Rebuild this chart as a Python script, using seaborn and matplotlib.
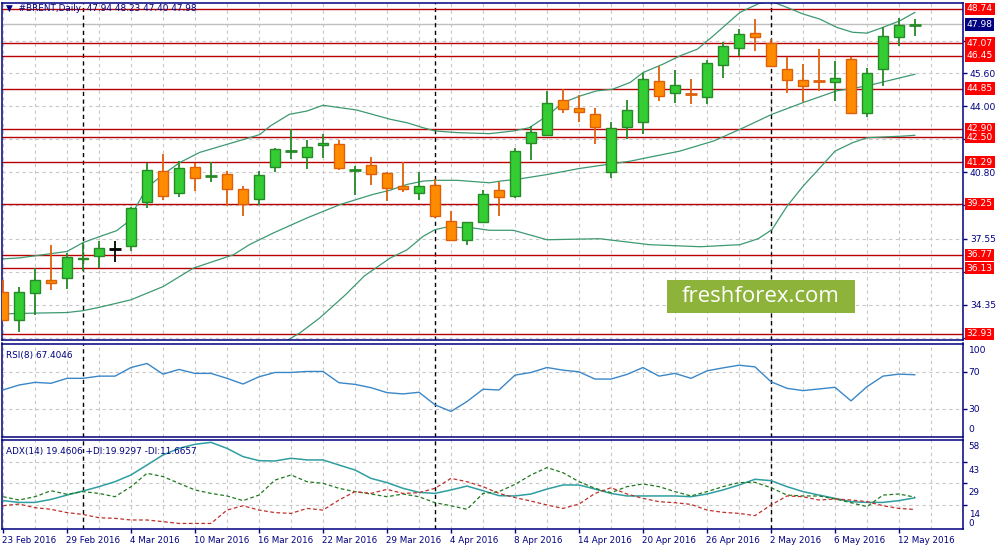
import numpy as np
import pandas as pd
import seaborn as sns
import matplotlib
matplotlib.use("Agg")
import matplotlib.pyplot as plt
from matplotlib.patches import Rectangle
import matplotlib.transforms as mtransforms

# trading days (Good Friday closed)
dates = pd.bdate_range("2016-02-23", "2016-05-13")
dates = dates[dates != pd.Timestamp("2016-03-25")]

opens = [34.99, 33.61, 34.91, 35.56, 35.64, 36.55, 36.70, 37.07, 37.19, 39.35,
         40.84, 39.79, 41.06, 40.58, 40.72, 39.99, 39.50, 41.06, 41.80, 41.53,
         42.10, 42.15, 40.87, 41.16, 40.77, 40.13, 39.79, 40.18, 38.42, 37.50,
         38.36, 39.95, 39.62, 42.23, 42.60, 44.29, 43.94, 43.64, 40.81, 43.01,
         43.25, 45.23, 44.63, 44.61, 44.47, 46.03, 46.82, 47.56, 47.06, 45.79,
         45.27, 45.27, 45.20, 46.29, 43.69, 45.79, 47.35, 47.94]
highs = [35.56, 35.21, 36.13, 37.27, 36.86, 37.35, 37.43, 37.46, 39.08, 41.22,
         41.66, 41.33, 41.22, 41.30, 40.84, 40.11, 40.84, 41.99, 42.88, 42.36,
         42.63, 42.36, 41.12, 41.55, 40.80, 41.30, 40.81, 40.44, 38.89, 38.38,
         39.95, 40.31, 41.95, 43.04, 44.75, 44.83, 44.54, 43.94, 43.25, 44.29,
         45.64, 45.94, 45.77, 45.35, 46.24, 47.14, 47.76, 48.24, 47.27, 46.40,
         46.05, 46.81, 46.21, 46.38, 45.85, 47.87, 48.29, 48.23]
lows = [33.55, 33.04, 33.85, 35.07, 35.11, 35.97, 36.16, 36.45, 36.94, 39.06,
        39.46, 39.58, 39.87, 40.33, 39.14, 38.65, 39.19, 40.80, 41.46, 40.96,
        41.50, 40.88, 39.71, 40.15, 39.38, 39.82, 39.46, 38.57, 37.48, 37.25,
        38.30, 38.65, 39.54, 41.38, 42.55, 43.69, 43.23, 42.18, 40.52, 42.42,
        42.63, 44.26, 44.18, 44.10, 44.10, 45.40, 46.45, 46.70, 45.89, 44.67,
        44.23, 44.75, 44.26, 43.62, 43.48, 44.99, 46.91, 47.40]
closes = [33.61, 34.99, 35.53, 35.43, 36.67, 36.62, 37.11, 37.07, 39.06, 40.89,
          39.62, 41.01, 40.52, 40.62, 39.99, 39.27, 40.67, 41.90, 41.84, 42.03,
          42.20, 40.98, 40.91, 40.72, 40.01, 39.99, 40.13, 38.65, 37.50, 38.36,
          39.74, 39.60, 41.85, 42.77, 44.18, 43.85, 43.74, 43.01, 42.96, 43.80,
          45.35, 44.50, 45.06, 44.57, 46.13, 46.91, 47.50, 47.35, 45.94, 45.27,
          45.01, 45.23, 45.38, 43.67, 45.64, 47.40, 47.93, 47.98]

# bollinger bands (bar position, price)
upper_x = [-0.2, 1.06, 4.0, 5.0, 6.06, 7.1, 7.75, 9.0, 10.0, 11.06, 12.3, 14.0, 15.4,
           16.06, 16.7, 17.9, 19.0, 20.0, 22.1, 24.2, 25.25, 26.25, 27.0, 28.4, 30.4,
           31.9, 32.9, 34.0, 35.0, 36.06, 37.1, 38.1, 39.2, 40.0, 41.25, 42.3, 43.4,
           44.4, 46.06, 47.3, 48.06, 49.0, 50.0, 51.06, 52.1, 53.1, 54.0, 55.0, 56.06, 57.0]
upper_y = [36.57, 36.63, 36.94, 37.37, 37.67, 37.95, 38.34, 40.05, 40.68, 41.27, 41.76,
           42.15, 42.47, 42.63, 43.04, 43.61, 43.77, 44.05, 43.82, 43.37, 43.20, 42.96,
           42.80, 42.72, 42.67, 42.80, 42.96, 43.53, 44.18, 44.50, 44.75, 44.83, 45.16,
           45.64, 46.05, 46.45, 46.78, 47.43, 48.57, 49.02, 49.09, 48.81, 48.49, 48.24,
           47.84, 47.60, 47.56, 47.84, 48.16, 48.57]
mid_x = [-0.2, 1.9, 4.0, 5.0, 6.06, 8.0, 10.0, 11.9, 14.4, 15.4, 16.9, 19.0, 21.06,
         23.1, 24.2, 25.25, 26.25, 27.0, 28.4, 30.4, 31.06, 32.3, 34.0, 36.06, 37.75,
         39.2, 40.25, 42.3, 44.4, 46.06, 48.06, 50.0, 52.1, 54.0, 55.25, 57.0]
mid_y = [33.90, 33.94, 33.97, 34.06, 34.23, 34.59, 35.23, 36.13, 36.78, 37.27, 37.84,
         38.57, 39.22, 39.71, 39.92, 40.20, 40.36, 40.40, 40.40, 40.28, 40.36, 40.47,
         40.68, 40.98, 41.17, 41.33, 41.50, 41.82, 42.31, 42.88, 43.61, 44.18, 44.75,
         44.99, 45.23, 45.56]
lower_x = [17.5, 18.56, 19.8, 21.4, 22.6, 24.2, 25.25, 26.25, 27.0, 27.75, 29.4, 30.4,
           31.9, 34.0, 37.3, 40.4, 43.6, 46.06, 47.2, 48.06, 49.0, 50.0, 51.06, 52.0,
           53.1, 54.0, 56.25, 57.0]
lower_y = [32.50, 32.98, 33.71, 34.83, 35.76, 36.62, 37.02, 37.67, 38.00, 38.13, 38.08,
           37.97, 37.97, 37.51, 37.56, 37.27, 37.17, 37.27, 37.56, 38.00, 39.14, 40.11,
           41.01, 41.82, 42.23, 42.47, 42.55, 42.59]

levels = [48.74, 47.07, 46.45, 44.85, 42.90, 42.50, 41.29, 39.25, 36.77, 36.13, 32.93]
last_price = 47.98

rsi = [50.8, 56.2, 59.1, 58.1, 63.5, 63.5, 65.9, 65.9, 75.3, 79.7, 68.1, 73.2, 68.9,
       68.9, 63.5, 57.3, 65.2, 69.9, 69.9, 71.0, 71.0, 58.7, 56.9, 53.3, 47.9, 46.5,
       48.3, 34.6, 27.4, 38.2, 51.6, 50.8, 67.0, 69.9, 75.3, 72.4, 70.6, 62.7, 62.7,
       67.8, 75.3, 65.9, 68.9, 63.5, 71.7, 74.9, 77.8, 76.0, 59.8, 52.6, 50.1, 51.9,
       53.7, 38.9, 54.4, 65.9, 68.1, 67.4]
adx = [17.6, 16.4, 16.4, 18.4, 21.3, 24.0, 26.9, 30.2, 34.7, 41.3, 48.0, 52.4, 55.1,
       56.4, 52.4, 46.9, 44.2, 44.0, 45.8, 44.7, 44.7, 41.3, 38.0, 32.4, 29.6, 25.8,
       23.1, 22.4, 24.7, 27.3, 24.2, 20.9, 20.7, 22.0, 25.3, 28.0, 28.0, 25.3, 22.4,
       20.7, 20.7, 20.7, 20.7, 20.2, 22.0, 24.7, 28.0, 31.8, 30.9, 26.9, 23.6, 21.3,
       19.1, 16.9, 16.4, 16.4, 17.6, 19.5]
plus_di = [20.2, 18.0, 20.2, 24.2, 21.8, 23.6, 22.4, 20.2, 26.9, 35.8, 33.6, 29.1, 24.7,
           22.4, 20.7, 17.6, 21.3, 31.3, 34.7, 30.2, 29.1, 25.8, 23.6, 22.0, 20.2, 22.0,
           20.2, 16.2, 14.2, 11.8, 22.4, 23.6, 28.4, 34.7, 39.6, 36.2, 30.2, 25.8, 22.9,
           26.9, 28.7, 26.9, 23.6, 20.7, 23.6, 26.9, 29.6, 29.8, 26.2, 21.3, 20.7, 20.7,
           18.7, 16.2, 13.6, 21.3, 22.0, 19.9]
minus_di = [14.2, 15.3, 12.9, 11.8, 9.6, 8.4, 6.2, 5.8, 4.7, 4.7, 3.6, 2.4, 2.4, 2.4,
            11.3, 14.2, 11.3, 9.6, 9.1, 12.4, 11.3, 18.0, 23.6, 22.4, 25.1, 22.4, 22.9,
            25.8, 32.4, 30.2, 26.9, 22.4, 19.6, 17.3, 14.7, 12.4, 15.3, 22.4, 26.2, 22.0,
            19.1, 16.9, 16.2, 15.1, 11.3, 9.8, 9.1, 7.6, 14.7, 20.7, 20.2, 18.0, 18.7,
            18.0, 16.9, 14.2, 12.4, 11.7]

# price grid levels; only the ones not covered by the level boxes get a label
price_ticks = [32.75, 34.35, 35.95, 37.55, 39.20, 40.80, 42.40, 44.00, 45.60, 47.20]
price_tick_labels = ["", "34.35", "", "37.55", "", "40.80", "", "44.00", "45.60", ""]

NAVY = "#000080"
GRID = "#c8c8c8"
UP_FACE, UP_EDGE = "#33cc33", "#268a26"
DN_FACE, DN_EDGE = "#ff8c00", "#e0600a"

sns.set_theme(style="white")
plt.rcParams["font.family"] = ["DejaVu Sans"]

W, H = 1005, 549
fig = plt.figure(figsize=(W / 100, H / 100), dpi=100)
fig.patch.set_facecolor("white")


def px_axes(top, bottom, left=2, right=963):
    return fig.add_axes([left / W, 1 - bottom / H, (right - left) / W, (bottom - top) / H])


ax = px_axes(3, 340)
ax_rsi = px_axes(343.5, 437)
ax_adx = px_axes(439.5, 529)

n = len(closes)
idx = np.arange(n)
xlim = (-0.0625, 60)

for a in (ax, ax_rsi, ax_adx):
    a.set_xlim(*xlim)
    a.set_facecolor("white")
    for s in a.spines.values():
        s.set_color(NAVY)
        s.set_linewidth(1.1)
    for k in range(0, 60, 2):
        a.axvline(k, color=GRID, lw=0.8, ls=(0, (3, 3)), zorder=0)

# month separators
month_starts = [i for i in range(1, n) if dates[i].month != dates[i - 1].month]
for a in (ax, ax_rsi, ax_adx):
    for m in month_starts:
        a.axvline(m, color="black", lw=1.0, ls=(0, (3, 2.5)), zorder=1)

# ---------------- main price panel ----------------
ax.set_ylim(32.634, 49.024)
for t in price_ticks:
    ax.axhline(t, color=GRID, lw=0.8, ls=(0, (3, 3)), zorder=0)
ax.axhline(last_price, color="#c0c0c0", lw=1.0, zorder=0.5)

for lv in levels:
    ax.axhline(lv, color="#b80000", lw=1.0, zorder=1.5)

sns.lineplot(x=upper_x, y=upper_y, ax=ax, color="#3d9970", lw=0.9, zorder=2)
sns.lineplot(x=mid_x, y=mid_y, ax=ax, color="#3d9970", lw=0.9, zorder=2)
sns.lineplot(x=lower_x, y=lower_y, ax=ax, color="#3d9970", lw=0.9, zorder=2)

bw = 0.62
for i in range(n):
    o, h, l, c = opens[i], highs[i], lows[i], closes[i]
    up = c >= o
    edge = UP_EDGE if up else DN_EDGE
    face = UP_FACE if up else DN_FACE
    if abs(c - o) < 0.05:
        col = "black" if c == o else edge
        ax.vlines(i, l, h, color=col, lw=1.3, zorder=3)
        ax.hlines((o + c) / 2, i - bw / 2 - 0.05, i + bw / 2 + 0.05, color=col, lw=2.0, zorder=3)
        continue
    ax.vlines(i, l, h, color=edge, lw=1.3, zorder=3)
    ax.bar(i, abs(c - o), bottom=min(o, c), width=bw, color=face, edgecolor=edge,
           linewidth=1.0, zorder=4)

ax.yaxis.tick_right()
ax.set_yticks(price_ticks)
ax.set_yticklabels(price_tick_labels)
ax.tick_params(axis="y", colors=NAVY, labelsize=6.6, length=3, width=1, pad=2,
               labelcolor=NAVY)
ax.set_xticks([])
ax.set_ylabel("")

for lv in levels:
    ax.annotate(f"{lv:.2f}", xy=(1, lv), xycoords=("axes fraction", "data"),
                xytext=(2.6, 0), textcoords="offset points", ha="left", va="center",
                fontsize=6.6, color="white", zorder=10, annotation_clip=False,
                bbox=dict(boxstyle="square,pad=0.2", fc="#ff0000", ec="none"))
ax.annotate(f"{last_price:.2f}", xy=(1, last_price), xycoords=("axes fraction", "data"),
            xytext=(2.6, 0), textcoords="offset points", ha="left", va="center",
            fontsize=6.6, color="white", zorder=10, annotation_clip=False,
            bbox=dict(boxstyle="square,pad=0.2", fc=NAVY, ec="none"))

ax.text(0.004, 0.983, "\u25bc  #BRENT,Daily  47.94 48.23 47.40 47.98", transform=ax.transAxes,
        ha="left", va="center", fontsize=6.4, color=NAVY, zorder=11)

# watermark
fig.patches.append(Rectangle((667 / W, 1 - 312.5 / H), 188 / W, 33 / H,
                             transform=fig.transFigure, fc="#8db33a", ec="none", zorder=20))
fig.text(761 / W, 1 - 296 / H, "freshforex.com", ha="center", va="center",
         fontsize=16, color="white", family=["Open Sans", "DejaVu Sans"], zorder=21)

# ---------------- RSI panel ----------------
ax_rsi.set_ylim(-0.5, 101.5)
for t in (30, 70):
    ax_rsi.axhline(t, color=GRID, lw=0.8, ls=(0, (3, 3)), zorder=0)
sns.lineplot(x=idx, y=rsi, ax=ax_rsi, color="#3a87c8", lw=1.0, zorder=3)
ax_rsi.yaxis.tick_right()
ax_rsi.set_yticks([30, 70])
ax_rsi.set_yticklabels([])
ax_rsi.tick_params(axis="y", colors=NAVY, length=3, width=1)
ax_rsi.set_xticks([])
ax_rsi.set_ylabel("")
for val, lab in [(94, "100"), (70, "70"), (30, "30"), (7.5, "0")]:
    ax_rsi.annotate(lab, xy=(1, val), xycoords=("axes fraction", "data"), xytext=(4, 0),
                    textcoords="offset points", ha="left", va="center", fontsize=6.6,
                    color=NAVY, annotation_clip=False)
ax_rsi.text(0.004, 0.87, "RSI(8) 67.4046", transform=ax_rsi.transAxes, ha="left",
            va="center", fontsize=6.4, color=NAVY)

# ---------------- ADX panel ----------------
ax_adx.set_ylim(-1.3, 58.3)
for t in (14.5, 29, 43.5):
    ax_adx.axhline(t, color=GRID, lw=0.8, ls=(0, (3, 3)), zorder=0)
sns.lineplot(x=idx, y=adx, ax=ax_adx, color="#2e9ea0", lw=1.1, zorder=3)
sns.lineplot(x=idx, y=plus_di, ax=ax_adx, color="#1f7a1f", lw=0.9, zorder=3,
             linestyle=(0, (3, 2)))
sns.lineplot(x=idx, y=minus_di, ax=ax_adx, color="#c0302a", lw=0.9, zorder=3,
             linestyle=(0, (3, 2)))
ax_adx.yaxis.tick_right()
ax_adx.set_yticks([14.5, 29, 43.5])
ax_adx.set_yticklabels([])
ax_adx.tick_params(axis="y", colors=NAVY, length=3, width=1)
ax_adx.set_ylabel("")
for val, lab in [(53.5, "58"), (37.5, "43"), (23.1, "29"), (8.3, "14"), (2.6, "0")]:
    ax_adx.annotate(lab, xy=(1, val), xycoords=("axes fraction", "data"), xytext=(4, 0),
                    textcoords="offset points", ha="left", va="center", fontsize=6.3,
                    color=NAVY, annotation_clip=False)
ax_adx.text(0.004, 0.87, "ADX(14) 19.4606 +DI:19.9297 -DI:11.6657",
            transform=ax_adx.transAxes, ha="left", va="center", fontsize=6.4, color=NAVY)

tick_pos = list(range(0, n, 4))
ax_adx.set_xticks(tick_pos)
ax_adx.set_xticklabels([f"{dates[i].day} {dates[i]:%b %Y}" for i in tick_pos], ha="left")
ax_adx.tick_params(axis="x", colors=NAVY, labelsize=6.3, length=3, width=1, pad=2,
                   labelcolor=NAVY, direction="out")
ax_adx.xaxis.set_ticks_position("bottom")
for lab in ax_adx.get_xticklabels():
    lab.set_transform(lab.get_transform() + mtransforms.ScaledTranslation(-1 / 100, 0, fig.dpi_scale_trans))
ax_adx.set_xlabel("")

fig.savefig("out.png", dpi=100, facecolor="white")
